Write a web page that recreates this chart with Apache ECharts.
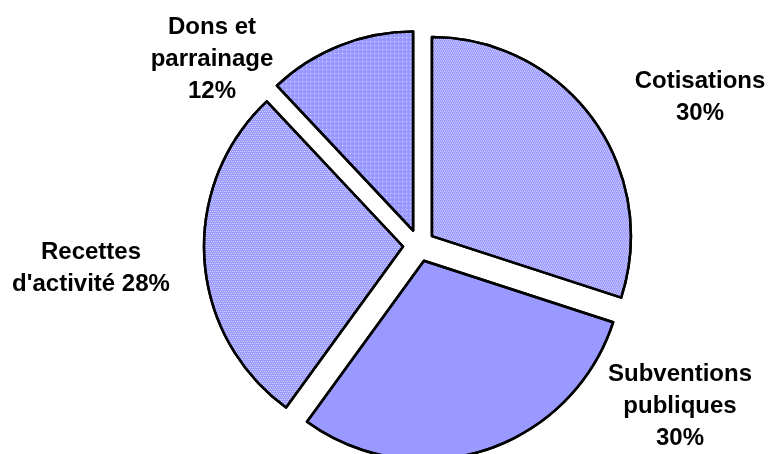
<!DOCTYPE html>
<html><head><meta charset="utf-8">
<script src="https://cdn.jsdelivr.net/npm/echarts@6/dist/echarts.min.js"></script>
<style>html,body{margin:0;padding:0;background:#fff}#c{width:768px;height:454px}</style>
</head><body><div id="c"></div>
<script>
const categories = ['Cotisations', 'Subventions publiques', "Recettes d'activité", 'Dons et parrainage'];
const values = [30, 30, 28, 12];
const labelTexts = ['Cotisations\n30%', 'Subventions\npubliques\n30%', "Recettes\nd'activité 28%", 'Dons et\nparrainage\n12%'];

const fills = ['#9999ff', '#9999ff', '#9999ff', '#9999ff'];
const decals = [
  {symbol: 'rect', symbolSize: 1, color: 'rgba(255,255,255,0.75)', dashArrayX: [[1, 1], [0, 1, 1, 0]], dashArrayY: [1, 0.0001]},
  'none',
  {symbol: 'rect', symbolSize: 1, color: 'rgba(255,255,255,0.65)', dashArrayX: [[1, 1], [0, 1, 1, 0]], dashArrayY: [1, 1]},
  {symbol: 'rect', symbolSize: 1, color: 'rgba(255,255,255,0.85)', dashArrayX: [1, 3], dashArrayY: [1, 3]}
];
const labelPos = [[700, 97], [680, 406], [91, 268], [212, 59]];

const chart = echarts.init(document.getElementById('c'), null, {renderer: 'canvas'});
chart.setOption({
  animation: false,
  backgroundColor: '#ffffff',
  graphic: labelTexts.map((t, i) => ({
    type: 'text',
    x: labelPos[i][0],
    y: labelPos[i][1],
    silent: true,
    style: {
      text: t,
      font: 'bold 24px "Liberation Sans", Arial, sans-serif',
      fill: '#000',
      align: 'center',
      verticalAlign: 'middle',
      lineHeight: 32
    }
  })),
  series: [{
    type: 'pie',
    center: [419, 245.5],
    radius: 199,
    startAngle: 90,
    clockwise: true,
    selectedMode: 'multiple',
    selectedOffset: 16,
    emphasis: {disabled: true},
    itemStyle: {borderColor: '#000', borderWidth: 2.5},
    labelLine: {show: false},
    label: {show: false},
    data: categories.map((c, i) => ({
      name: c,
      value: values[i],
      selected: true,
      itemStyle: {color: fills[i], decal: decals[i] === 'none' ? {symbol: 'none'} : decals[i]},
      select: {itemStyle: {color: fills[i], borderColor: '#000', borderWidth: 2.5}}
    }))
  }]
});
</script></body></html>
